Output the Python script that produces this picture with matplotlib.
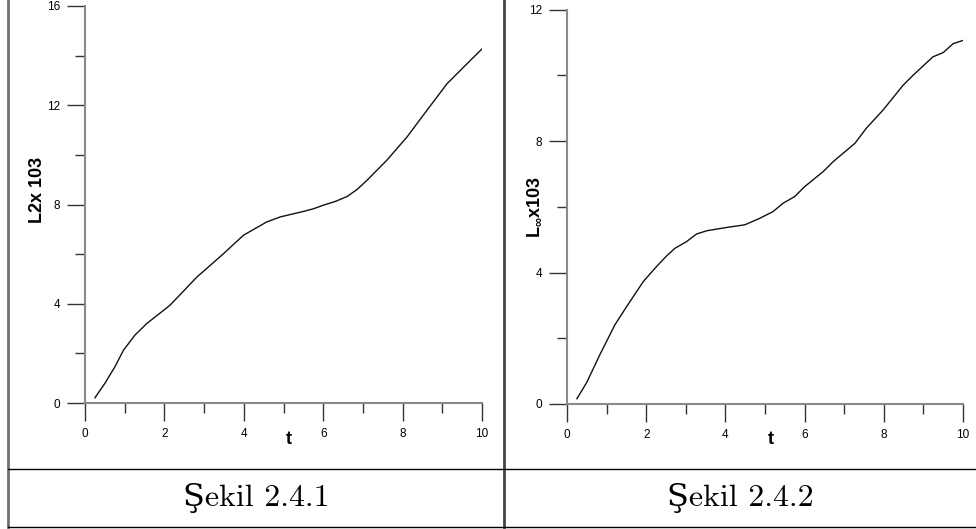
import matplotlib
matplotlib.use("Agg")
import matplotlib.pyplot as plt
from matplotlib.lines import Line2D
from matplotlib.ticker import MultipleLocator

# L2 error norm (x 10^3) versus time
t_l2 = [0.25, 0.5, 0.75, 0.97, 1.26, 1.56, 2.0, 2.14, 2.5, 2.82, 3.0, 3.49, 3.99,
        4.58, 4.92, 5.5, 5.76, 6.0, 6.3, 6.6, 6.85, 7.1, 7.6, 8.11, 8.61, 9.12, 9.62, 10.0]
l2_err = [0.21, 0.79, 1.45, 2.13, 2.74, 3.21, 3.76, 3.94, 4.54, 5.08, 5.33, 6.02, 6.76,
          7.30, 7.50, 7.72, 7.83, 7.97, 8.12, 8.32, 8.60, 8.97, 9.78, 10.72, 11.79, 12.87,
          13.67, 14.27]

# L-infinity error norm (x 10^3) versus time
t_linf = [0.25, 0.5, 0.83, 1.21, 1.51, 1.93, 2.26, 2.52, 2.73, 3.02, 3.27, 3.53, 4.03,
          4.49, 4.87, 5.2, 5.46, 5.75, 6.0, 6.47, 6.72, 7.27, 7.56, 7.98, 8.49, 8.74,
          9.24, 9.5, 9.75, 10.0]
linf_err = [0.16, 0.66, 1.50, 2.41, 2.97, 3.73, 4.18, 4.51, 4.74, 4.94, 5.17, 5.27, 5.37,
            5.45, 5.65, 5.85, 6.11, 6.31, 6.61, 7.07, 7.37, 7.93, 8.39, 8.94, 9.70, 10.0,
            10.56, 10.69, 10.96, 11.06]

captions = ["Şekil 2.4.1", "Şekil 2.4.2"]
xlabel = "t"
ylabels = ["L2x 103", r"L$_{\infty}$x103"]

W, H = 976, 529
fig = plt.figure(figsize=(W / 100, H / 100), dpi=100)
plt.rcParams["mathtext.default"] = "regular"


def fx(px):
    return px / W


def fy(py):
    return 1 - py / H


def panel(rect, t, v, ymax, ymajor):
    ax = fig.add_axes(rect)
    ax.plot(t, v, color="#111111", lw=1.0)
    ax.set_xlim(0, 10)
    ax.set_ylim(0, ymax)
    for s in ("top", "right"):
        ax.spines[s].set_visible(False)
    for s in ("left", "bottom"):
        ax.spines[s].set_color("#8a8a8a")
        ax.spines[s].set_linewidth(1.5)
    ax.xaxis.set_major_locator(MultipleLocator(2))
    ax.xaxis.set_minor_locator(MultipleLocator(1))
    ax.yaxis.set_major_locator(MultipleLocator(ymajor))
    ax.yaxis.set_minor_locator(MultipleLocator(ymajor / 2))
    ax.tick_params(which="major", direction="out", length=13, width=1.0,
                   color="#333333", pad=5, labelsize=8.5)
    ax.tick_params(which="minor", direction="out", length=7, width=1.0,
                   color="#333333")
    for lab in ax.get_xticklabels() + ax.get_yticklabels():
        lab.set_family("Liberation Sans")
    ax.patch.set_alpha(0)
    return ax


panel([fx(85), fy(403), fx(482) - fx(85), fy(6) - fy(403)],
      t_l2, l2_err, 16, 4)
panel([fx(567), fy(404), fx(963) - fx(567), fy(9.5) - fy(404)],
      t_linf, linf_err, 12, 4)

# axis titles
lab_kw = dict(family="Liberation Sans", weight="bold", fontsize=13)
fig.text(fx(289), fy(440), xlabel, ha="center", va="center", **lab_kw)
fig.text(fx(771), fy(440), xlabel, ha="center", va="center", **lab_kw)
fig.text(fx(37), fy(190), ylabels[0], rotation=90, ha="center", va="center", **lab_kw)
fig.text(fx(534), fy(207), ylabels[1], rotation=90, ha="center", va="center", **lab_kw)

# table frame around the two panels and their captions
frame = [
    ((8, 8), (0, 527), "#707070", 2.0),
    ((504, 504), (0, 527), "#444444", 2.0),
    ((8, 976), (469, 469), "black", 1.0),
    ((8, 976), (527, 527), "black", 1.0),
]
for xs, ys, c, lw in frame:
    fig.add_artist(Line2D([fx(x) for x in xs], [fy(y) for y in ys],
                          color=c, lw=lw, transform=fig.transFigure))

cap_kw = dict(family=["cmr10", "DejaVu Serif"], fontsize=23, ha="center", va="center")
fig.text(fx(256), fy(498), captions[0], **cap_kw)
fig.text(fx(740), fy(498), captions[1], **cap_kw)

fig.savefig("out.png", dpi=100)
